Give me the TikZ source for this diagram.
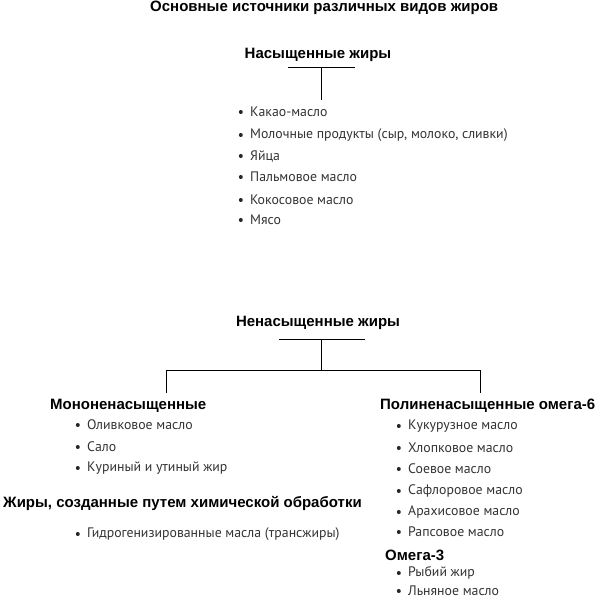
\documentclass[tikz,border=0pt]{standalone}
\usepackage{fontspec}
\setmainfont{PT Sans}
\newfontfamily\headfont{Liberation Sans}
\usepackage{tikz}
\usetikzlibrary{positioning}

\begin{document}
\begin{tikzpicture}[x=1pt, y=-1pt,
    head/.style={font=\headfont\bfseries\fontsize{15}{17}\selectfont, inner sep=0pt},
    item/.style={font=\fontsize{13.8}{16}\selectfont, text=black!80, anchor=west, inner sep=0pt},
    bulletdot/.style={circle, fill=black!85, inner sep=0pt, minimum size=4pt},
    tree/.style={line width=0.9pt}
]
\useasboundingbox (0,0) rectangle (600,601);
\def\xS{250}   \def\xM{87}   \def\xP{408}

\node[head, anchor=west] (title) at (150,8) {Основные источники различных видов жиров};

% saturated
\node[head] (sat) at (318,55) {Насыщенные жиры};
\coordinate (satL) at (288,67);  \coordinate (satR) at (355,67);
\coordinate (satM) at (321,67);  \coordinate (satE) at (321,100);
\draw[tree] (satL) -- (satR);
\draw[tree] (satM) -- (satE);

\foreach \y/\t [count=\i] in {112/Какао-масло, 135/{Молочные продукты (сыр, молоко, сливки)},
    156/Яйца, 177/Пальмовое масло, 200/Кокосовое масло, 220/Мясо} {
  \node[item] (sat\i) at (\xS,\y) {\t};
  \node[bulletdot, left=7pt of sat\i] {};
}

% unsaturated
\node[head] (unsat) at (318,323) {Ненасыщенные жиры};
\coordinate (unL) at (279,339);  \coordinate (unR) at (365,339);
\coordinate (unM) at (321,339);  \coordinate (unB) at (321,370);
\coordinate (brL) at (166,370);  \coordinate (brR) at (480,370);
\coordinate (brLe) at (166,393); \coordinate (brRe) at (480,393);
\draw[tree] (unL) -- (unR);
\draw[tree] (unM) -- (unB);
\draw[tree] (brLe) -- (brL) -- (brR) -- (brRe);

\node[head, anchor=west] (mono) at (50,406) {Мононенасыщенные};
\foreach \y/\t [count=\i] in {425/Оливковое масло, 447/Сало, 468/Куриный и утиный жир} {
  \node[item] (mono\i) at (\xM,\y) {\t};
  \node[bulletdot, left=7pt of mono\i] {};
}

\node[head, anchor=west] (trans) at (3,503) {Жиры, созданные путем химической обработки};
\node[item] (trans1) at (\xM,534) {Гидрогенизированные масла (трансжиры)};
\node[bulletdot, left=7pt of trans1] {};

\node[head, anchor=west] (poly) at (380,406) {Полиненасыщенные омега-6};
\foreach \y/\t [count=\i] in {426/Кукурузное масло, 448/Хлопковое масло, 469/Соевое масло,
    491/Сафлоровое масло, 512/Арахисовое масло, 532/Рапсовое масло} {
  \node[item] (poly\i) at (\xP,\y) {\t};
  \node[bulletdot, left=7pt of poly\i] {};
}

\node[head, anchor=west] (omega) at (385,555) {Омега-3};
\foreach \y/\t [count=\i] in {573/Рыбий жир, 591/Льняное масло} {
  \node[item] (omega\i) at (\xP,\y) {\t};
  \node[bulletdot, left=7pt of omega\i] {};
}

\end{tikzpicture}
\end{document}
